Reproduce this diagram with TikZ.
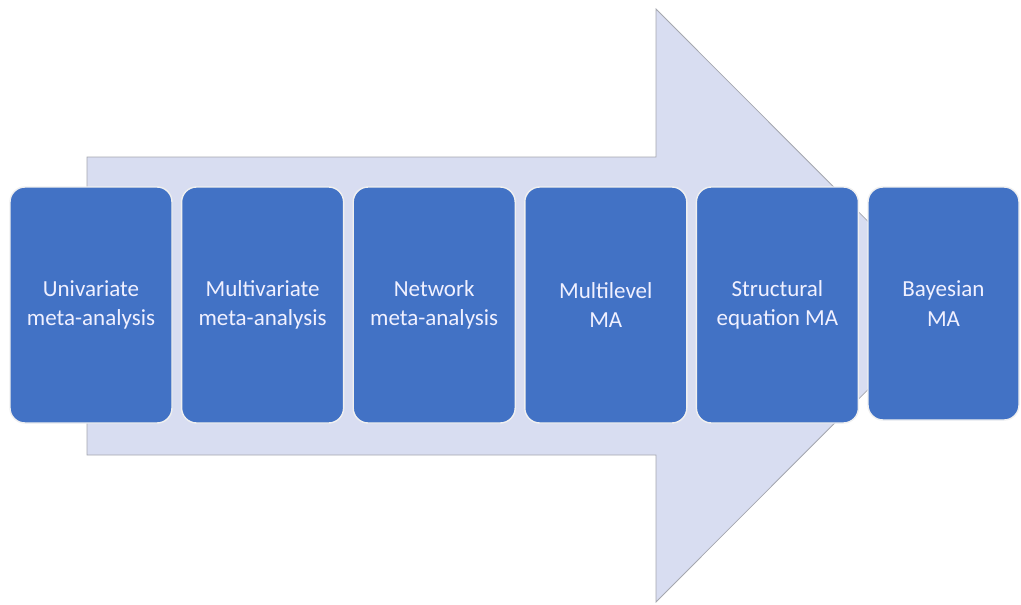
\documentclass[tikz,border=0pt]{standalone}
\usepackage{fontspec}
\setmainfont{Carlito}
\definecolor{boxblue}{RGB}{66,114,197}
\definecolor{arrowfill}{RGB}{216,221,241}
\definecolor{arrowline}{RGB}{165,167,175}

\begin{document}
\begin{tikzpicture}[x=1pt,y=-1pt,
    stage/.style={rounded corners=15pt,fill=boxblue,draw=white!88!gray,line width=1.4pt,
        minimum width=162pt,minimum height=236pt,inner sep=0pt,
        text=white!94!blue,align=center,font=\fontsize{23}{29.5}\selectfont}]
    \useasboundingbox (0,0) rectangle (1021,605);

    \fill[arrowfill] (87,157) -- (656,157) -- (656,9) -- (952,305.5) -- (656,602) -- (656,455) -- (87,455) -- cycle;
    \draw[arrowline,line width=0.8pt] (87,157) -- (656,157) -- (656,9) -- (952,305.5) -- (656,602) -- (656,455) -- (87,455) -- cycle;

    \node[stage] (uni) at (91,305) {Univariate\\meta-analysis};
    \node[stage] (multi) at (262.6,305) {Multivariate\\meta-analysis};
    \node[stage] (net) at (434.2,305) {Network\\meta-analysis};
    \node[stage] (level) at (605.8,305) {Multilevel\\MA};
    \node[stage] (sem) at (777.4,305) {Structural\\equation MA};
    \node[stage,minimum width=151pt,minimum height=233pt] (bayes) at (943.5,303.5) {Bayesian\\MA};

\end{tikzpicture}
\end{document}
